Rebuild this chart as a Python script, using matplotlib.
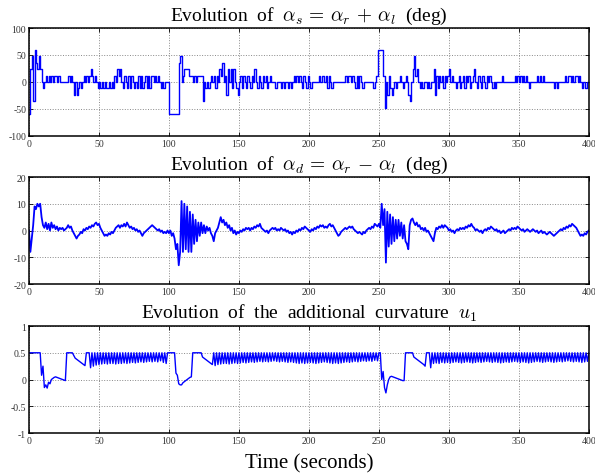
import numpy as np
import matplotlib
matplotlib.use("Agg")
import matplotlib.pyplot as plt

plt.rcParams['font.family'] = ['Liberation Serif', 'DejaVu Serif']
plt.rcParams['mathtext.fontset'] = 'cm'
plt.rcParams['axes.unicode_minus'] = False

# time axis (seconds), one sample per second
t = np.arange(0, 401)

# alpha_s = alpha_r + alpha_l (deg), held between samples
alpha_s = [
    -60, 24, 48, -36, 60, 36, 24, 48, 24, 0,
    -12, 0, 12, 0, 12, 0, 12, 0, 12, 12,
    0, 12, 0, 0, 0, 0, 0, 0, 12, 0,
    12, 0, -24, 0, -24, -12, 0, -12, 0, 12,
    0, 12, 0, 12, 24, 12, 0, 12, 0, -12,
    0, -12, 0, -12, 0, -12, -12, 0, -12, 0,
    -12, 12, 0, 24, 12, 24, 0, -12, 12, 0,
    -12, 12, -12, 12, 0, -12, 0, -12, 12, -12,
    12, -12, 0, 12, -12, 12, -12, 12, 12, 0,
    12, 0, 12, 0, -12, 0, -12, 0, 0, 0,
    -60, -60, -60, -60, -60, -60, -60, 36, 48, 0,
    12, 24, 24, 24, 12, 12, 12, 0, 12, 0,
    12, 12, 12, 12, -36, 0, -12, 0, -12, 0,
    12, 0, 12, -12, 12, 0, 24, 12, 36, 0,
    12, -24, 24, 0, 24, -12, 24, 0, -12, -24,
    0, 12, -12, 12, 0, -12, 12, 0, -12, 12,
    0, 24, 0, -12, 12, 0, -12, 12, 0, 12,
    -12, 0, 12, 0, 0, 0, -12, 0, 0, 0,
    -12, 0, -12, 0, 0, -12, 0, -12, 0, 12,
    0, 12, 0, 12, 0, -12, 12, 0, -12, 12,
    0, -12, 0, 0, 0, 0, 0, 12, 0, 12,
    12, 0, 12, -12, 12, 0, -12, 0, 0, 0,
    0, 0, 0, 0, 0, 0, 12, 0, 12, 12,
    0, 12, 0, -12, 12, -12, 12, 0, -12, 0,
    0, 0, 0, 0, 0, 0, -12, 0, 12, 60,
    60, 60, 60, 12, -48, 0, -24, 12, -12, -24,
    -12, 0, -12, 0, 0, 12, 0, -12, 0, 12,
    0, -24, -36, 0, 24, 48, 12, 24, 0, -12,
    0, -12, 0, 0, -12, 0, -12, 0, 0, 24,
    -24, 12, -12, 12, 0, 12, -12, 12, 0, 12,
    24, 0, 12, 0, 0, -12, 0, 12, -12, 0,
    12, -12, 12, 0, 12, -12, 0, 12, 24, 0,
    -12, 12, 0, -12, 12, 0, -12, 12, 0, 12,
    0, -12, 0, -12, 0, 0, 0, 0, 12, 0,
    0, 0, 0, 0, 0, 0, 0, 12, 0, 12,
    0, 12, 0, 12, 0, 12, 0, -12, 0, 0,
    0, 0, 0, 12, 0, 12, 0, 12, 0, 0,
    0, 0, 0, 0, 0, -12, 0, -12, 0, 0,
    0, 0, 0, 12, 0, 12, 12, 0, 12, 0,
    12, 12, 0, 12, 0, -12, 0, -12, -12, 0,
    -12,
]

# alpha_d = alpha_r - alpha_l (deg)
alpha_d = [
    0, -8, -3, 2, 9, 8, 10, 9, 10, 5,
    2, 1, 3, 0.5, 2.5, 0, 3, 1, 2, 0.5,
    1.5, 0, 1, 0.5, 1, 0, 0.5, 1, 2, 1,
    1.5, 0, -1, -2, -3, -2, -1.5, -0.5, -1, 0.5,
    0, 1, 0.5, 1.5, 1, 2, 1.5, 2.5, 3, 2,
    2.5, 1, 0, -1, -2, -1.5, -2, -1, -1.5, -0.5,
    -1, 0, 1, 1.5, 2, 1, 2, 1.5, 2.5, 1.5,
    3, 2, 1, 1.5, 0.5, 1, 0, 0.5, -0.5, 0,
    -1, -2, -1, -0.5, 0, 0.5, 1, 1.5, 2, 1.5,
    1, 0.5, 0, 0.5, -0.5, 0, -1, -0.5, -1, 0,
    -1, 0, -2, -1, -3, -7, -5, -13, -8, 11,
    -8, 10, -7, 9, -8, 7, -8, 6, -5, 4,
    -4, 3, -2, 3, -1, 2, -1, 1.5, 0, 1,
    -1, -2, -4, -1, 0, 1, 3, 5, 3, 4,
    2, 3, 1, 2, 0, 1, -1, 0, -1.5, -0.5,
    -1, 0, -0.5, 0.5, 0, 1, 0.5, 1, 0, 1,
    0.5, 1.5, 1, 2, 1.5, 2.5, 1, 0.5, 0, -0.5,
    0, -1, 0, 0.5, 1, 0.5, 1, 0, 0.5, 0,
    1, 0.5, 0, 0.5, -0.5, 0, -1, -0.5, -1.5, -0.5,
    -1, 0, -0.5, 0.5, 0, 1, 0.5, 1.5, 1, 0.5,
    0, -0.5, 0.5, 0, 1, 0.5, 1.5, 1, 2, 1.5,
    2, 1, 1.5, 1, 2, 2.5, 1.5, 2, 1, 0,
    -1, -2, -1.5, -0.5, 0, 0.5, 1, 0.5, 1, 1.5,
    1, 1.5, 0.5, 0, -0.5, -1, -0.5, -1, -1.5, -0.5,
    -1, 0, 0.5, 1, 0.5, 1.5, 1, 2.5, 2, 1.5,
    2.5, 1, 10, 2, 8, -12, 7, -6, 6, -5,
    5, -4, 4, -3, 4, -2, 3, -3, 2, -4,
    -5, -7, 2, 4, 4.5, 3, 2, 3, 1.5, 2,
    0.5, 1, 0, 1, -0.5, 0, -1, -2, -3, -4,
    -1, 1, 0.5, 1.5, 1, 2, 1, 2, 1.5, 1,
    0, 0.5, -0.5, 0, -1, 0, 0.5, 0, 1, 0.5,
    1, 0.5, 1.5, 1, 2, 1.5, 2.5, 1.5, 1, 0,
    0.5, 0, -0.5, 0, -1, 0, 0.5, 0, 1, 0.5,
    1.5, 1, 0.5, 0, 0.5, -0.5, 0, -1, -0.5, 0,
    -1, -0.5, 0, 0.5, 0, 1, 0.5, 1, 0.5, 1.5,
    1, 0.5, 0, 0.5, -0.5, 0, 0.5, 0, -0.5, 0,
    0.5, 0, -0.5, 0, -1, -0.5, 0, -1, -0.5, -1,
    -1.5, -1, -0.5, -1, -1.5, -2, -1.5, -1, -0.5, 0,
    0.5, 0, 1, 0.5, 1.5, 1, 2, 1.5, 2.5, 2,
    1.5, 1, 0, -1, -2, -1.5, -2, -1, -1.5, -0.5,
    0,
]

# additional curvature u1
u1 = [
    0.5, 0.5, 0.5, 0.5, 0.5, 0.5, 0.5, 0.5, 0.5, 0.08,
    0.25, -0.15, -0.1, -0.16, -0.05, -0.08, 0.0, 0.02, 0.04, 0.05,
    0.04, 0.03, 0.02, 0.01, 0.0, -0.01, -0.02, 0.5, 0.5, 0.5,
    0.5, 0.5, 0.45, 0.4, 0.38, 0.36, 0.34, 0.32, 0.3, 0.28,
    0.26, 0.5, 0.5, 0.5, 0.22, 0.5, 0.25, 0.5, 0.27, 0.5,
    0.28, 0.5, 0.29, 0.5, 0.3, 0.5, 0.29, 0.5, 0.3, 0.5,
    0.3, 0.5, 0.29, 0.5, 0.3, 0.5, 0.3, 0.5, 0.31, 0.5,
    0.3, 0.5, 0.31, 0.5, 0.32, 0.5, 0.31, 0.5, 0.32, 0.5,
    0.33, 0.5, 0.32, 0.5, 0.33, 0.5, 0.34, 0.5, 0.33, 0.5,
    0.34, 0.5, 0.33, 0.5, 0.35, 0.5, 0.32, 0.5, 0.3, 0.5,
    0.5, 0.5, 0.5, 0.5, 0.5, 0.12, 0.08, -0.08, -0.1, -0.1,
    -0.06, -0.04, -0.02, 0.0, 0.02, 0.04, 0.05, 0.5, 0.5, 0.5,
    0.5, 0.5, 0.5, 0.5, 0.42, 0.4, 0.38, 0.36, 0.34, 0.32,
    0.3, 0.28, 0.5, 0.26, 0.5, 0.28, 0.5, 0.29, 0.5, 0.3,
    0.5, 0.3, 0.5, 0.29, 0.5, 0.3, 0.5, 0.31, 0.5, 0.3,
    0.5, 0.31, 0.5, 0.32, 0.5, 0.31, 0.5, 0.32, 0.5, 0.33,
    0.5, 0.32, 0.5, 0.33, 0.5, 0.34, 0.5, 0.33, 0.5, 0.34,
    0.5, 0.33, 0.5, 0.34, 0.5, 0.35, 0.5, 0.34, 0.5, 0.33,
    0.5, 0.34, 0.5, 0.33, 0.5, 0.32, 0.5, 0.33, 0.5, 0.32,
    0.5, 0.31, 0.5, 0.3, 0.5, 0.31, 0.5, 0.3, 0.5, 0.31,
    0.5, 0.32, 0.5, 0.31, 0.5, 0.3, 0.5, 0.31, 0.5, 0.32,
    0.5, 0.33, 0.5, 0.32, 0.5, 0.31, 0.5, 0.3, 0.5, 0.31,
    0.5, 0.3, 0.5, 0.31, 0.5, 0.32, 0.5, 0.33, 0.5, 0.32,
    0.5, 0.33, 0.5, 0.34, 0.5, 0.33, 0.5, 0.34, 0.5, 0.35,
    0.5, 0.34, 0.5, 0.35, 0.5, 0.34, 0.5, 0.36, 0.5, 0.35,
    0.5, 0.5, 0.0, 0.15, -0.15, -0.25, -0.1, 0.0, 0.05, 0.06,
    0.05, 0.04, 0.03, 0.02, 0.01, 0.0, -0.01, -0.02, -0.02, 0.5,
    0.5, 0.5, 0.5, 0.5, 0.5, 0.42, 0.4, 0.38, 0.36, 0.34,
    0.32, 0.3, 0.28, 0.25, 0.5, 0.5, 0.5, 0.22, 0.5, 0.3,
    0.5, 0.31, 0.5, 0.3, 0.5, 0.32, 0.5, 0.31, 0.5, 0.32,
    0.5, 0.31, 0.5, 0.32, 0.5, 0.33, 0.5, 0.32, 0.5, 0.31,
    0.5, 0.32, 0.5, 0.33, 0.5, 0.32, 0.5, 0.31, 0.5, 0.32,
    0.5, 0.33, 0.5, 0.32, 0.5, 0.33, 0.5, 0.34, 0.5, 0.33,
    0.5, 0.32, 0.5, 0.33, 0.5, 0.32, 0.5, 0.31, 0.5, 0.32,
    0.5, 0.33, 0.5, 0.32, 0.5, 0.33, 0.5, 0.34, 0.5, 0.33,
    0.5, 0.32, 0.5, 0.33, 0.5, 0.32, 0.5, 0.31, 0.5, 0.32,
    0.5, 0.33, 0.5, 0.34, 0.5, 0.33, 0.5, 0.32, 0.5, 0.33,
    0.5, 0.34, 0.5, 0.33, 0.5, 0.32, 0.5, 0.33, 0.5, 0.34,
    0.5, 0.33, 0.5, 0.34, 0.5, 0.35, 0.5, 0.34, 0.5, 0.33,
    0.5, 0.34, 0.5, 0.33, 0.5, 0.32, 0.5, 0.33, 0.5, 0.34,
    0.5,
]

titles = [r"Evolution  of  $\alpha_s \,=\, \alpha_r \,+\, \alpha_l$  (deg)",
          r"Evolution  of  $\alpha_d \,=\, \alpha_r \,-\, \alpha_l$  (deg)",
          r"Evolution  of  the  additional  curvature  $u_1$"]
yticks = [[-100, -50, 0, 50, 100], [-20, -10, 0, 10, 20], [-1, -0.5, 0, 0.5, 1]]
yticklabels = [["-100", "-50", "0", "50", "100"],
               ["-20", "-10", "0", "10", "20"],
               ["-1", "-0.5", "0", "0.5", "1"]]
xticks = [0, 50, 100, 150, 200, 250, 300, 350, 400]

fig = plt.figure(figsize=(5.95, 4.77), dpi=100)
boxes = [[0.0487, 0.7128, 0.941, 0.2264],
         [0.0487, 0.4025, 0.941, 0.2243],
         [0.0487, 0.0901, 0.941, 0.2243]]
axes = [fig.add_axes(b) for b in boxes]

axes[0].plot(t, alpha_s, color='blue', lw=1.0, drawstyle='steps-post')
axes[1].plot(t, alpha_d, color='blue', lw=1.3)
axes[2].plot(t, u1, color='blue', lw=1.0)

for i, ax in enumerate(axes):
    ax.set_xlim(0, 400)
    ax.set_ylim(yticks[i][0], yticks[i][-1])
    ax.set_xticks(xticks)
    ax.set_xticklabels([str(x) for x in xticks])
    ax.set_yticks(yticks[i])
    ax.set_yticklabels(yticklabels[i])
    ax.tick_params(direction='in', length=3, width=0.6, top=True, right=True,
                   labelsize=7, pad=2, colors='black', labelcolor='#333333')
    ax.grid(True, linestyle=':', color='#888888', linewidth=0.7)
    for s in ax.spines.values():
        s.set_linewidth(1.1)
    ax.set_title(titles[i], fontsize=14, pad=6)

axes[2].set_xlabel("Time (seconds)", fontsize=15, labelpad=6)

fig.savefig("out.png", dpi=100)
